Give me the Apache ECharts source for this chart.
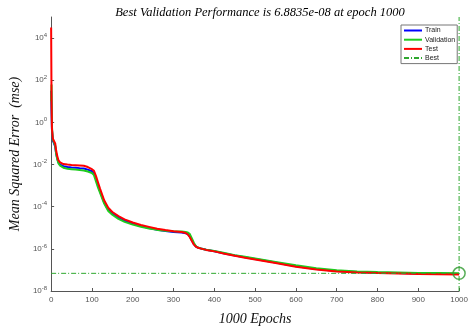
<!DOCTYPE html>
<html>
<head>
<meta charset="utf-8">
<script src="https://cdn.jsdelivr.net/npm/echarts@6/dist/echarts.min.js"></script>
<style>
html,body{margin:0;padding:0;background:#fff;}
#c{width:471px;height:331px;}
</style>
</head>
<body>
<div id="c"></div>
<script>
const epochs = [0,1,2,4,6,8,10,12,15,18,22,26,30,40,50,60,70,80,90,100,105,110,115,120,130,140,150,165,180,200,220,240,260,280,300,320,330,335,340,345,350,355,360,370,380,400,425,450,475,500,550,600,650,700,750,800,850,900,950,1000];
const trainMse = [31.6,3.16,4.47e-1,1.41e-1,1.12e-1,1e-1,7.08e-2,3.55e-2,1.91e-2,1.26e-2,1.0e-2,8.91e-3,8.32e-3,7.59e-3,7.24e-3,7.08e-3,6.76e-3,6.46e-3,5.75e-3,4.79e-3,3.80e-3,2.0e-3,1.0e-3,5.37e-4,1.58e-4,7.24e-5,4.68e-5,3.02e-5,2.14e-5,1.55e-5,1.20e-5,9.77e-6,8.13e-6,7.08e-6,6.31e-6,5.89e-6,5.50e-6,5.01e-6,3.80e-6,2.51e-6,1.66e-6,1.29e-6,1.14e-6,1.0e-6,9.0e-7,7.76e-7,6.03e-7,4.79e-7,3.98e-7,3.31e-7,2.24e-7,1.51e-7,1.12e-7,8.91e-8,7.94e-8,7.41e-8,7.08e-8,6.76e-8,6.61e-8,6.46e-8];
const validationMse = [10,63.1,6.31e-1,1.58e-1,1.26e-1,1.12e-1,7.94e-2,3.55e-2,1.78e-2,1.12e-2,8.91e-3,7.94e-3,7.08e-3,6.31e-3,6.03e-3,5.75e-3,5.50e-3,5.25e-3,4.68e-3,3.98e-3,3.16e-3,1.58e-3,7.94e-4,4.47e-4,1.41e-4,6.31e-5,4.17e-5,2.63e-5,1.91e-5,1.41e-5,1.12e-5,9.33e-6,7.94e-6,7.24e-6,6.76e-6,6.61e-6,6.31e-6,6.03e-6,5.01e-6,3.16e-6,1.91e-6,1.32e-6,1.15e-6,1.0e-6,9.12e-7,7.94e-7,6.31e-7,5.01e-7,4.17e-7,3.47e-7,2.40e-7,1.66e-7,1.20e-7,9.55e-8,8.51e-8,7.94e-8,7.59e-8,7.24e-8,7.08e-8,6.8835e-8];
const testMse = [3.16e4,10,5.01e-1,1.78e-1,1.41e-1,1.26e-1,1e-1,5.01e-2,2.51e-2,1.58e-2,1.26e-2,1.12e-2,1.05e-2,1.0e-2,9.55e-3,9.33e-3,9.12e-3,8.71e-3,7.59e-3,6.03e-3,5.01e-3,2.82e-3,1.41e-3,7.08e-4,2.0e-4,8.91e-5,5.62e-5,3.55e-5,2.51e-5,1.78e-5,1.35e-5,1.10e-5,8.91e-6,7.76e-6,6.92e-6,6.31e-6,5.62e-6,4.79e-6,3.55e-6,2.34e-6,1.58e-6,1.26e-6,1.12e-6,1.0e-6,8.91e-7,7.59e-7,5.89e-7,4.68e-7,3.80e-7,3.16e-7,2.14e-7,1.41e-7,1.05e-7,8.32e-8,7.59e-8,7.08e-8,6.76e-8,6.46e-8,6.31e-8,6.03e-8];
const bestEpoch = 1000;
const bestValue = 6.8835e-8;
const yMin = 1e-8, yMax = 1e5;
const xTicks = [0,100,200,300,400,500,600,700,800,900,1000];
const yTicks = [1e-8,1e-6,1e-4,1e-2,1e0,1e2,1e4];
const titleText = 'Best Validation Performance is 6.8835e-08 at epoch 1000';

const pairs = arr => epochs.map((e,i)=>[e, arr[i]]);
const chart = echarts.init(document.getElementById('c'));
const serif = '"Liberation Serif","DejaVu Serif",serif';
const sans = '"Liberation Sans",Arial,sans-serif';
const bestColor = '#2ea82e';
const dashDot = [5,2,1,2];
chart.setOption({
  animation:false,
  backgroundColor:'#fff',
  title:{text:titleText,left:255,textAlign:'center',top:1,
    textStyle:{fontFamily:serif,fontStyle:'italic',fontWeight:'normal',fontSize:12.5,color:'#000'}},
  legend:{
    data:['Train','Validation','Test','Best'],
    orient:'vertical',left:401,top:25,
    itemWidth:18,itemHeight:8,itemGap:2.2,
    padding:[2,2,2,2],
    itemStyle:{opacity:0},
    backgroundColor:'#fff',borderColor:'#777',borderWidth:1,borderRadius:0,
    textStyle:{fontFamily:sans,fontSize:7,color:'#222',padding:[0,0,0,-2]}
  },
  grid:{left:48,right:8,top:17,bottom:39},
  xAxis:{type:'value',min:0,max:1000,interval:100,
    name:'1000 Epochs',nameLocation:'middle',nameGap:21,
    nameTextStyle:{fontFamily:serif,fontStyle:'italic',fontSize:14,color:'#111'},
    axisLine:{lineStyle:{color:'#555'}},
    axisTick:{inside:true,length:3,lineStyle:{color:'#555'}},
    axisLabel:{fontFamily:sans,fontSize:8,color:'#555',margin:5,customValues:xTicks,formatter:v=>String(v)},
    splitLine:{show:false}},
  yAxis:{type:'log',logBase:10,min:yMin,max:yMax,
    name:'Mean Squared Error  (mse)',nameLocation:'middle',nameGap:23,nameRotate:90,
    nameTextStyle:{fontFamily:serif,fontStyle:'italic',fontSize:14,color:'#111'},
    axisLine:{show:true,lineStyle:{color:'#555'}},
    axisTick:{inside:true,length:3,lineStyle:{color:'#555'},customValues:yTicks},
    axisLabel:{margin:4,customValues:yTicks,
      formatter:v=>{const e=Math.round(Math.log10(v));return '{b|10}{s|'+e+'}';},
      rich:{b:{fontFamily:sans,fontSize:8,color:'#555'},
            s:{fontFamily:sans,fontSize:6,color:'#555',padding:[0,0,6,0]}}},
    splitLine:{show:false}},
  series:[
    {name:'Train',type:'line',data:pairs(trainMse),symbol:'none',lineStyle:{color:'#0000ff',width:2},itemStyle:{color:'#0000ff'}},
    {name:'Validation',type:'line',data:pairs(validationMse),symbol:'none',lineStyle:{color:'#1fcc1f',width:2},itemStyle:{color:'#1fcc1f'}},
    {name:'Test',type:'line',data:pairs(testMse),symbol:'none',lineStyle:{color:'#ff0000',width:2},itemStyle:{color:'#ff0000'}},
    {name:'Best',type:'line',data:[[0,bestValue],[bestEpoch,bestValue]],symbol:'none',
      lineStyle:{color:bestColor,width:1,type:dashDot},itemStyle:{color:bestColor}},
    {name:'bestVertical',type:'line',data:[[bestEpoch,yMin],[bestEpoch,yMax]],symbol:'none',
      lineStyle:{color:bestColor,width:1,type:dashDot},itemStyle:{color:bestColor}},
    {name:'bestCircle',type:'scatter',data:[[bestEpoch,bestValue]],symbol:'circle',symbolSize:12,
      itemStyle:{color:'rgba(0,0,0,0)',borderColor:'#2e9a2e',borderWidth:1.5},z:5}
  ]
});
</script>
</body>
</html>
